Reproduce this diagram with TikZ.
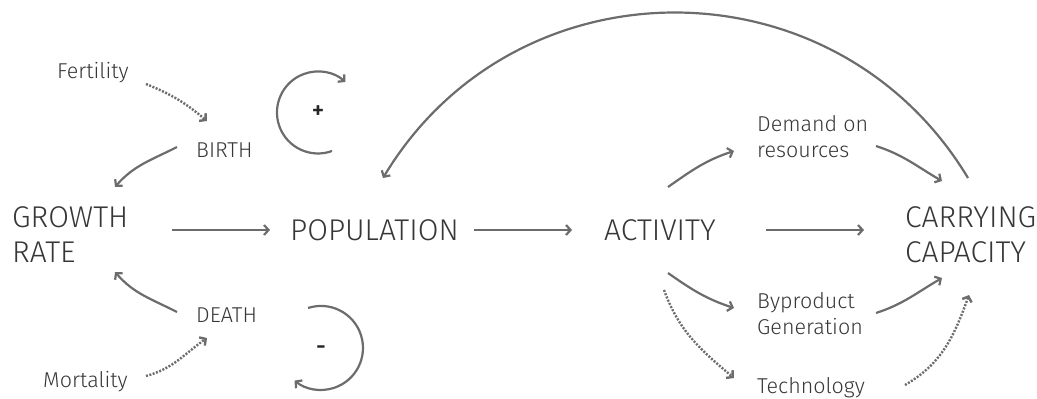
\documentclass[tikz,border=0pt]{standalone}
\usepackage{fontspec}
\setmainfont{Fira Sans}[UprightFont=* Light, BoldFont=* Medium]
\usetikzlibrary{arrows.meta}
\definecolor{linegray}{RGB}{108,108,108}
\definecolor{txtgray}{RGB}{55,55,55}
\begin{document}
\begin{tikzpicture}[x=1pt,y=-1pt,
  big/.style={inner sep=0pt,text=txtgray,font=\fontsize{30}{35}\selectfont,align=left},
  small/.style={inner sep=0pt,text=txtgray,font=\fontsize{21.5}{26.5}\selectfont,align=left},
  sign/.style={inner sep=0pt,text=black!85,font=\bfseries\fontsize{24}{26}\selectfont},
  link/.style={draw=linegray,line width=2.2pt,-{Straight Barb[length=4.5pt,width=10pt]}},
  dotlink/.style={draw=linegray,line width=2.4pt,dash pattern=on 2pt off 1.5pt,-{Straight Barb[length=4.5pt,width=10pt]}}
]
\useasboundingbox (0,0) rectangle (1037,399);
% nodes
\node[small,anchor=base west] (fert) at (57,78) {Fertility};
\node[small,anchor=base west] (birth) at (196,157) {BIRTH};
\node[small,anchor=base west] (death) at (196,322) {DEATH};
\node[small,anchor=base west] (mort) at (43,387) {Mortality};
\node[big,anchor=north west] (growth) at (12,206) {GROWTH\\RATE};
\node[big,anchor=base west] (pop) at (290,240) {POPULATION};
\node[big,anchor=base west] (act) at (604,240) {ACTIVITY};
\node[big,anchor=north west] (cc) at (905,206) {CARRYING\\CAPACITY};
\node[small,anchor=north west] (dem) at (757,115) {Demand on\\resources};
\node[small,anchor=north west] (byp) at (757,292) {Byproduct\\Generation};
\node[small,anchor=base west] (tech) at (757,393) {Technology};
\node[sign] (plus) at (318,112) {+};
\node[sign] (minus) at (321,350) {-};
% connector end points
\coordinate (fertE) at (146,84);   \coordinate (birthI) at (207,121);
\coordinate (birthO) at (177,147); \coordinate (growthI1) at (115,187);
\coordinate (deathO) at (177,312); \coordinate (growthI2) at (115,272);
\coordinate (mortE) at (146,376);  \coordinate (deathI) at (207,338);
\coordinate (growthO) at (172,230); \coordinate (popI) at (270,230);
\coordinate (popO) at (474,230);   \coordinate (actI) at (572,230);
\coordinate (actO) at (766,230);   \coordinate (ccI) at (864,230);
\coordinate (actD) at (668,187);   \coordinate (demI) at (734,151);
\coordinate (demO) at (876,146);   \coordinate (ccD) at (942,181);
\coordinate (actB) at (668,273);   \coordinate (bypI) at (734,308);
\coordinate (bypO) at (876,313);   \coordinate (ccB) at (942,278);
\coordinate (actT) at (664,290);   \coordinate (techI) at (734,378);
\coordinate (techO) at (905,385);  \coordinate (ccT) at (969,295);
\coordinate (ccTop) at (968,178);  \coordinate (popTop) at (383,178);
\coordinate (plusS) at (332,151);
\coordinate (minusS) at (308,308);
% connectors (out/in angles are canvas angles: positive = up)
\draw[dotlink] (fertE) to[out=-22,in=140] (birthI);
\draw[link] (birthO) to[out=-153,in=49] (growthI1);
\draw[link] (deathO) to[out=153,in=-49] (growthI2);
\draw[dotlink] (mortE) to[out=15,in=-145] (deathI);
\draw[link] (growthO) -- (popI);
\draw[link] (popO) -- (actI);
\draw[link] (actO) -- (ccI);
\draw[link] (actD) to[out=35,in=-162] (demI);
\draw[link] (demO) to[out=-18,in=150] (ccD);
\draw[link] (actB) to[out=-35,in=162] (bypI);
\draw[link] (bypO) to[out=18,in=-150] (ccB);
\draw[dotlink] (actT) to[out=-70,in=140] (techI);
\draw[dotlink] (techO) to[out=30,in=-110] (ccT);
\draw[link] (ccTop) .. controls +(-121:257) and +(-59:257) .. (popTop);
% loops
\draw[link] (plusS) arc[start angle=70,end angle=312,radius=41];
\draw[link] (minusS) arc[start angle=-108,end angle=129,radius=42];
\end{tikzpicture}
\end{document}
